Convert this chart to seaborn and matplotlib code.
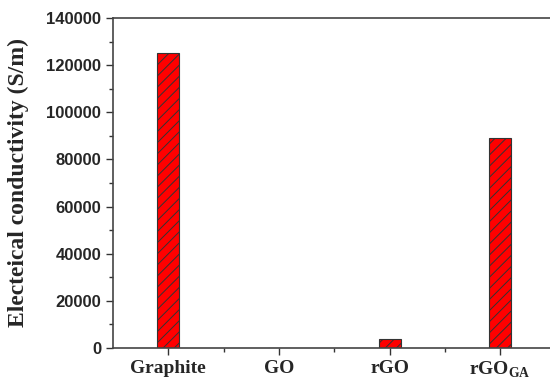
import numpy as np
import pandas as pd
import seaborn as sns
import matplotlib.pyplot as plt
from matplotlib.ticker import MultipleLocator, FixedLocator

categories = ["Graphite", "GO", "rGO", r"rGO$_{\mathregular{GA}}$"]
conductivity = [125000, 10, 4000, 89000]

df = pd.DataFrame({"sample": categories, "conductivity": conductivity})

sns.set_style("ticks")
plt.rcParams["hatch.color"] = "#550000"
plt.rcParams["hatch.linewidth"] = 0.7

fig = plt.figure(figsize=(5.5, 3.82), dpi=100)
ax = fig.add_axes([0.2055, 0.089, 0.8045, 0.864])

sns.barplot(data=df, x="sample", y="conductivity", color="#ff0000",
            width=0.2, edgecolor="#333333", linewidth=0.8, hatch="///",
            saturation=1, ax=ax)

ax.set_xlim(-0.5, 3.5)
ax.set_ylim(0, 140000)
ax.yaxis.set_major_locator(MultipleLocator(20000))
ax.yaxis.set_minor_locator(MultipleLocator(10000))
ax.xaxis.set_minor_locator(FixedLocator([0.5, 1.5, 2.5]))

for s in ["left", "bottom", "top", "right"]:
    ax.spines[s].set_color("#444444")
    ax.spines[s].set_linewidth(1.2)

ax.tick_params(which="major", length=5, width=1, color="#333333", direction="out")
ax.tick_params(which="minor", length=3, width=1, color="#333333", direction="out")

for lab in ax.get_yticklabels():
    lab.set_fontfamily("Liberation Sans")
    lab.set_fontweight("bold")
    lab.set_fontsize(12)
for lab in ax.get_xticklabels():
    lab.set_fontfamily("Liberation Serif")
    lab.set_fontweight("bold")
    lab.set_fontsize(14)

ax.set_xlabel("")
ax.set_ylabel("Electeical conductivity (S/m)", fontfamily="Liberation Serif",
              fontweight="bold", fontsize=17)
ax.yaxis.set_label_coords(-0.19, 0.5)

fig.savefig("out.png", dpi=100)
